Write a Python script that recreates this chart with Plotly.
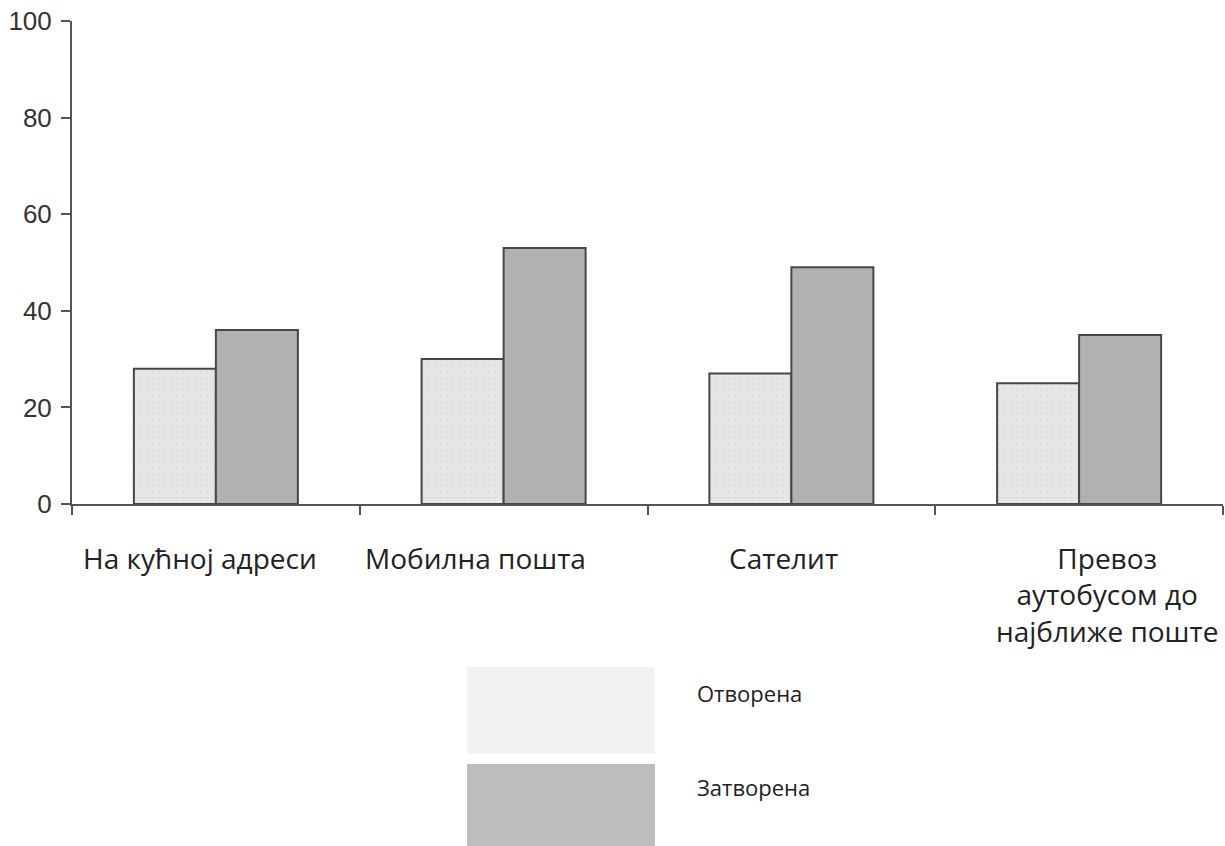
import plotly.graph_objects as go

# Survey data: share of respondents per delivery option, by post office status
categories = ["На кућној адреси", "Мобилна пошта", "Сателит",
              "Превоз<br>аутобусом до<br>најближе поште"]
series_names = ["Отворена", "Затворена"]
open_values = [28, 30, 27, 25]
closed_values = [36, 53, 49, 35]
y_ticks = [0, 20, 40, 60, 80, 100]

W, H = 1225, 846
ML, MR, MT, MB = 72, 2, 21, 342
PW, PH = W - ML - MR, H - MT - MB


def px_x(x):
    return (x - ML) / PW


def px_y(y):
    return (H - MB - y) / PH


fig = go.Figure()
fig.add_trace(go.Bar(
    x=categories, y=open_values, name=series_names[0],
    marker=dict(color="#e4e4e4", line=dict(color="#474747", width=2),
                pattern=dict(shape=".", fgcolor="#d2d2d2", bgcolor="#e6e6e6",
                             size=6, solidity=0.15)),
))
fig.add_trace(go.Bar(
    x=categories, y=closed_values, name=series_names[1],
    marker=dict(color="#b1b1b1", line=dict(color="#474747", width=2)),
))

# Category labels below the axis
label_shift = [-16, -28, -8, 28]
for cat, dx in zip(categories, label_shift):
    fig.add_annotation(
        x=cat, xref="x", y=px_y(537), yref="paper",
        text=cat, showarrow=False, xanchor="center", yanchor="top",
        xshift=dx, align="center",
        font=dict(family="Open Sans", size=28, color="#222222"),
    )

# Legend drawn as large swatches with labels
swatches = [("#f2f2f2", 667, 754, 693), ("#bdbdbd", 764, 860, 787)]
for name, (col, y0, y1, ty) in zip(series_names, swatches):
    fig.add_shape(type="rect", xref="paper", yref="paper",
                  x0=px_x(467), x1=px_x(655), y0=px_y(y1), y1=px_y(y0),
                  fillcolor=col, line=dict(width=0), layer="below")
    fig.add_annotation(
        x=px_x(695), xref="paper", y=px_y(ty), yref="paper",
        text=name, showarrow=False, xanchor="left", yanchor="middle",
        font=dict(family="Open Sans", size=22, color="#222222"),
    )

fig.update_layout(
    width=W, height=H,
    margin=dict(l=ML, r=MR, t=MT, b=MB, pad=0),
    paper_bgcolor="white", plot_bgcolor="white",
    barmode="group", bargap=0.43, bargroupgap=0,
    showlegend=False,
    xaxis=dict(
        type="category", range=[-0.5, 3.5], tickson="boundaries",
        ticks="outside", ticklen=9, tickwidth=2, tickcolor="#555555",
        showticklabels=False, showline=True, linecolor="#555555",
        linewidth=2, showgrid=False, zeroline=False,
    ),
    yaxis=dict(
        range=[0, 100], tickvals=y_ticks, ticks="outside", ticklen=9,
        tickwidth=2, tickcolor="#555555", showline=True,
        linecolor="#555555", linewidth=2, showgrid=False, zeroline=False,
        ticklabelstandoff=4,
        tickfont=dict(family="Liberation Sans", size=26, color="#333333"),
    ),
)

fig.write_html("out.html")
